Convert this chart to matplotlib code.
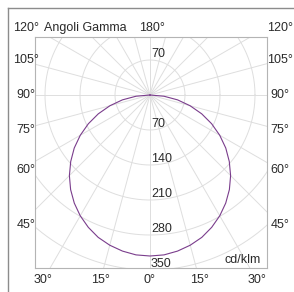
import numpy as np
import matplotlib.pyplot as plt
from matplotlib.lines import Line2D

plt.rcParams['font.family'] = ['Liberation Sans', 'DejaVu Sans']
plt.rcParams['text.color'] = '#2a2a2a'

# curva fotometrica (cd/klm) per angolo gamma, simmetrica
gamma = [0, 5, 10, 15, 20, 25, 30, 35, 40, 45, 50, 55, 60, 65, 70, 75, 80, 85, 90]
intensita = [322, 321, 317, 311, 303, 292, 279, 264, 247, 228, 207, 185, 161, 136, 110, 83, 56, 28, 0]

anelli = [70, 140, 210, 280, 350]
raggi = list(range(0, 181, 15))
lato_lab = [45, 60, 75, 90, 105, 120]
basso_lab = [0, 15, 30]

fig = plt.figure(figsize=(2.94, 2.92), dpi=100)
ax = fig.add_axes([35/294, 24/292, 232/294, 231/292])
ax.set_xlim(-230, 234)
ax.set_ylim(-346, 116)
ax.set_xticks([])
ax.set_yticks([])
for s in ax.spines.values():
    s.set_color('#b4b4b4')
    s.set_linewidth(0.8)

grigio = '#dedede'
t = np.linspace(0, 2*np.pi, 361)
for r in anelli:
    ax.plot(r*np.cos(t), r*np.sin(t), color=grigio, lw=0.7, zorder=1)
for g in raggi:
    a = np.radians(g)
    for sgn in (1, -1):
        ax.plot([0, sgn*600*np.sin(a)], [0, -600*np.cos(a)], color=grigio, lw=0.7, zorder=1)

# curva
g = np.radians(gamma)
I = np.array(intensita)
xs = np.concatenate([-(I*np.sin(g))[::-1], (I*np.sin(g))[1:]])
ys = np.concatenate([-(I*np.cos(g))[::-1], -(I*np.cos(g))[1:]])
ax.plot(xs, ys, color='#7a3d8c', lw=0.8, zorder=3)

# etichette anelli
ax.text(2, 70, '70', fontsize=9, ha='left', va='bottom')
for r in anelli:
    ax.text(2, -r, str(r), fontsize=9, ha='left', va='bottom')

# etichette angoli
xcol = 260
ytop = 134
for ang in lato_lab:
    a = np.radians(ang)
    y = -xcol*np.cos(a)/np.sin(a)
    y = min(y, ytop)
    ax.text(xcol, y, '%d°' % ang, fontsize=9, ha='center', va='center', clip_on=False)
    ax.text(-248, y, '%d°' % ang, fontsize=9, ha='center', va='center', clip_on=False)
for ang in basso_lab:
    x = 370*np.tan(np.radians(ang))
    ax.text(x, -370, '%d°' % ang, fontsize=9, ha='center', va='center', clip_on=False)
    if ang:
        ax.text(-x, -370, '%d°' % ang, fontsize=9, ha='center', va='center', clip_on=False)
ax.text(4, ytop, '180°', fontsize=9, ha='center', va='center', clip_on=False)
ax.text(-212, ytop, 'Angoli Gamma', fontsize=9, ha='left', va='center', clip_on=False)
ax.text(222, -330, 'cd/klm', fontsize=9, ha='right', va='center')

# cornice
fig.add_artist(Line2D([8/294, 8/294], [0, 1 - 8/292], color='#8c8c8c', lw=1))
fig.add_artist(Line2D([8/294, 1], [1 - 8/292, 1 - 8/292], color='#8c8c8c', lw=1))

fig.savefig('out.png', dpi=100)
